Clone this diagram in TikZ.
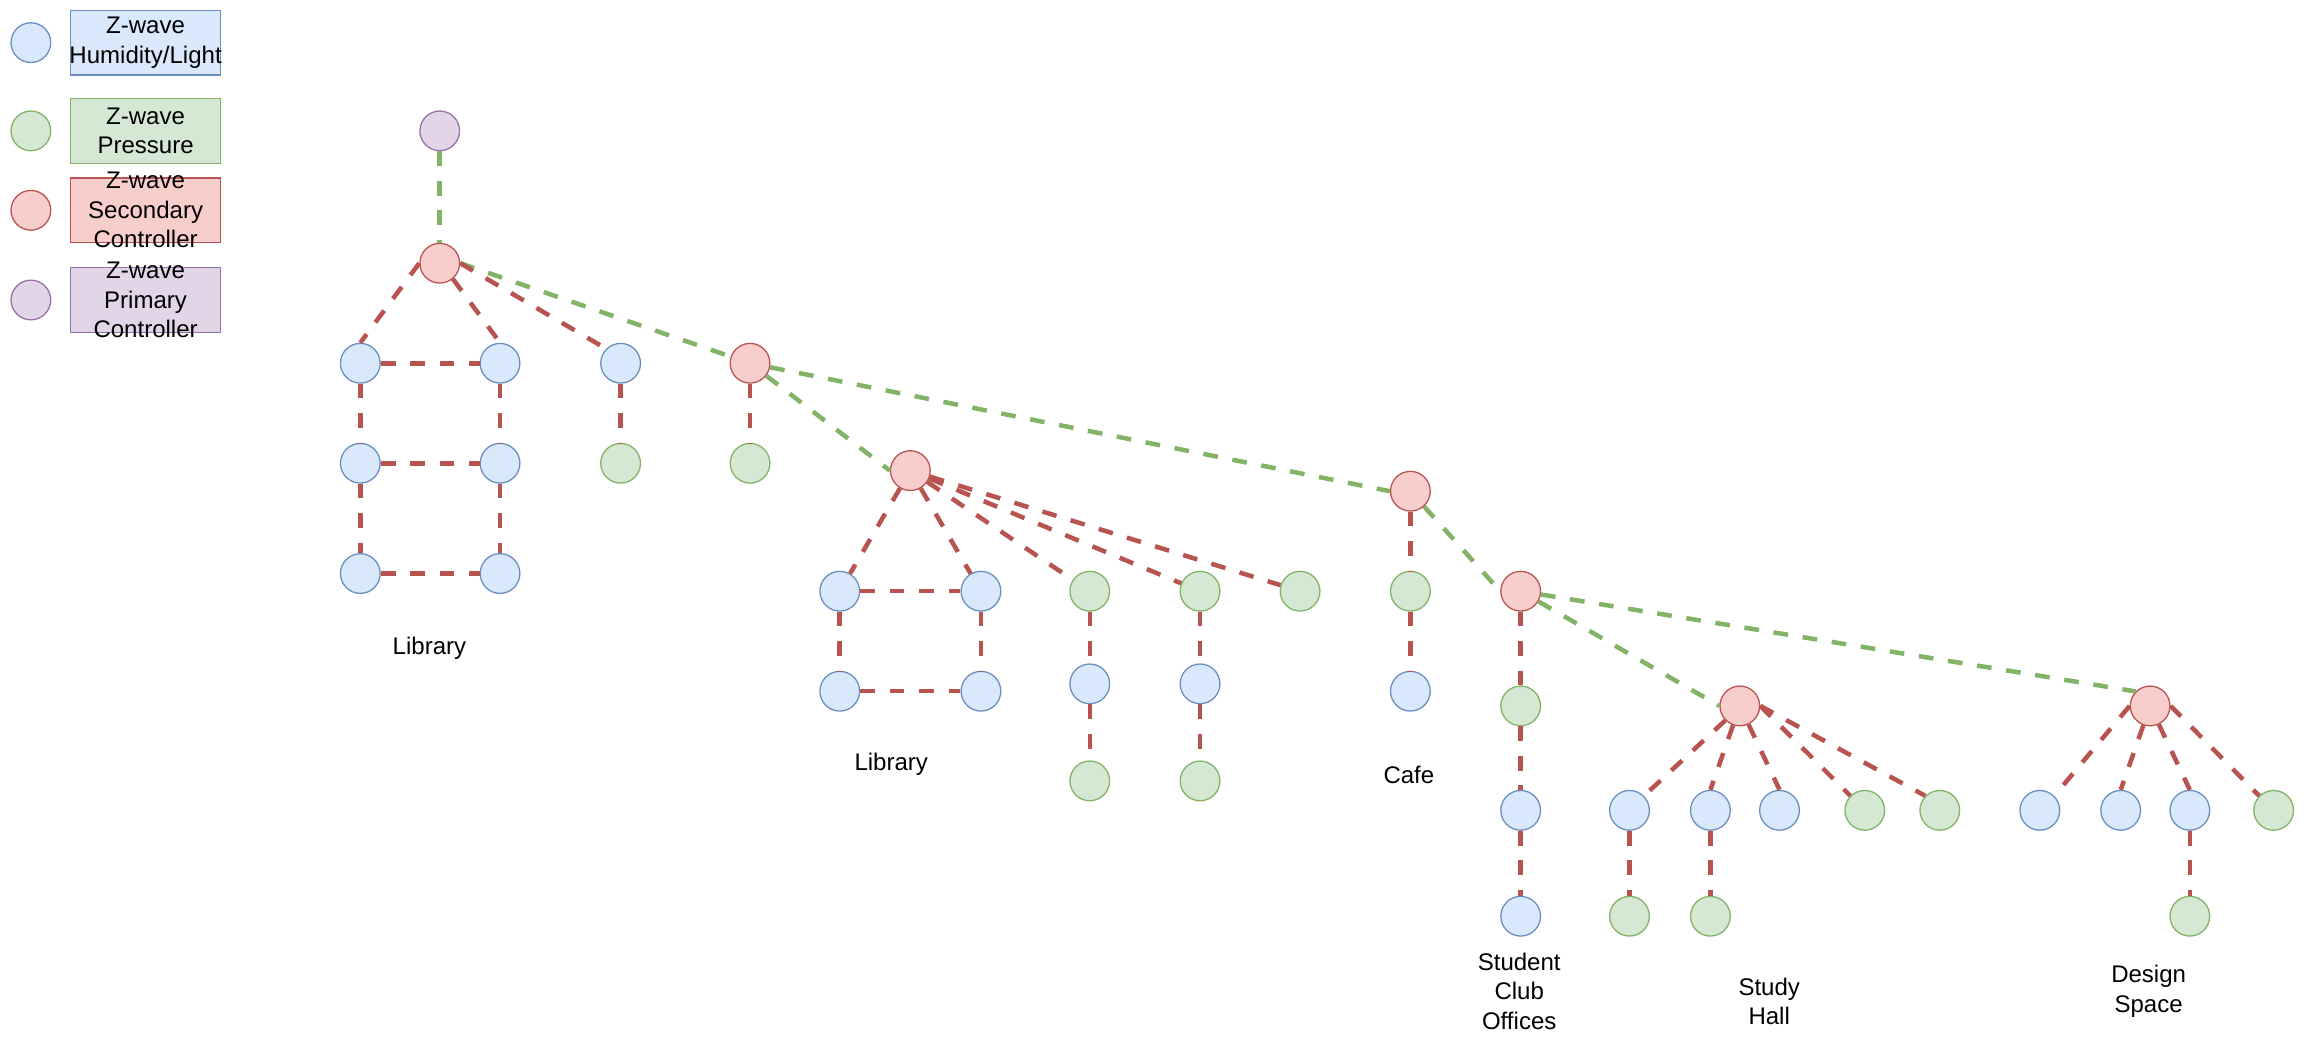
\documentclass[tikz,border=0pt]{standalone}
\usepackage{fontspec}
\setmainfont{Liberation Sans}
\usepackage{xcolor}
\definecolor{humfill}{HTML}{DAE8FC}
\definecolor{humline}{HTML}{6C8EBF}
\definecolor{prsfill}{HTML}{D5E8D4}
\definecolor{prsline}{HTML}{82B366}
\definecolor{secfill}{HTML}{F8CECC}
\definecolor{secline}{HTML}{B85450}
\definecolor{prifill}{HTML}{E1D5E7}
\definecolor{priline}{HTML}{9673A6}

\begin{document}
\begin{tikzpicture}[x=0.02cm,y=-0.02cm,
  dev/.style={circle,draw,minimum size=0.54cm,inner sep=0pt,line width=0.5pt},
  hum/.style={dev,fill=humfill,draw=humline},
  prs/.style={dev,fill=prsfill,draw=prsline},
  sec/.style={dev,fill=secfill,draw=secline},
  pri/.style={dev,fill=prifill,draw=priline},
  legbox/.style={draw,minimum width=2.04cm,minimum height=0.88cm,inner sep=0pt,line width=0.5pt},
  txt/.style={align=center,font=\fontsize{9.3}{11.4}\selectfont},
  mesh/.style={draw=prsline,line width=1.75pt,dash pattern=on 5.7pt off 5.7pt},
  wire/.style={draw=secline,line width=1.75pt,dash pattern=on 5.7pt off 5.7pt}]
\useasboundingbox (0,0) rectangle (1568,715);
%
% legend
\node[hum] (khum) at (21,29) {};
\node[prs] (kprs) at (21,89) {};
\node[sec] (ksec) at (21,143) {};
\node[pri] (kpri) at (21,204) {};
\node[legbox,fill=humfill,draw=humline] (bhum) at (99,29) {};
\node[legbox,fill=prsfill,draw=prsline] (bprs) at (99,89) {};
\node[legbox,fill=secfill,draw=secline] (bsec) at (99,143) {};
\node[legbox,fill=prifill,draw=priline] (bpri) at (99,204) {};
\node[txt] at (bhum) {Z-wave\\Humidity/Light};
\node[txt] at (bprs) {Z-wave\\Pressure};
\node[txt] at (bsec) {Z-wave\\Secondary\\Controller};
\node[txt] at (bpri) {Z-wave\\Primary\\Controller};
%
% controllers
\node[pri] (pc) at (299,89) {};
\node[sec] (s1) at (299,179) {};
\node[sec] (s2) at (510,247) {};
\node[sec] (s3) at (619,320) {};
\node[sec] (s4) at (959,334) {};
\node[sec] (s5) at (1034,402) {};
\node[sec] (s6) at (1183,480) {};
\node[sec] (s7) at (1462,480) {};
%
% first library
\node[hum] (a1) at (245,247) {};
\node[hum] (a2) at (340,247) {};
\node[hum] (a3) at (245,315) {};
\node[hum] (a4) at (340,315) {};
\node[hum] (a5) at (245,390) {};
\node[hum] (a6) at (340,390) {};
\node[hum] (a7) at (422,247) {};
\node[prs] (a8) at (422,315) {};
\node[prs] (a9) at (510,315) {};
\node[txt] (lib1) at (292,441) {Library};
%
% second library
\node[hum] (b1) at (571,402) {};
\node[hum] (b2) at (667,402) {};
\node[hum] (b3) at (571,470) {};
\node[hum] (b4) at (667,470) {};
\node[prs] (b5) at (741,402) {};
\node[hum] (b6) at (741,465) {};
\node[prs] (b7) at (741,531) {};
\node[prs] (b8) at (816,402) {};
\node[hum] (b9) at (816,465) {};
\node[prs] (b10) at (816,531) {};
\node[prs] (b11) at (884,402) {};
\node[txt] (lib2) at (606,520) {Library};
%
% cafe
\node[prs] (c1) at (959,402) {};
\node[hum] (c2) at (959,470) {};
\node[txt] (cafe) at (958,527) {Cafe};
%
% student club offices
\node[prs] (d1) at (1034,480) {};
\node[hum] (d2) at (1034,551) {};
\node[hum] (d3) at (1034,623) {};
\node[txt] (club) at (1033,674) {Student\\Club\\Offices};
%
% study hall
\node[hum] (e1) at (1108,551) {};
\node[hum] (e2) at (1163,551) {};
\node[hum] (e3) at (1210,551) {};
\node[prs] (e4) at (1268,551) {};
\node[prs] (e5) at (1319,551) {};
\node[prs] (e6) at (1108,623) {};
\node[prs] (e7) at (1163,623) {};
\node[txt] (hall) at (1203,681) {Study\\Hall};
%
% design space
\node[hum] (f1) at (1387,551) {};
\node[hum] (f2) at (1442,551) {};
\node[hum] (f3) at (1489,551) {};
\node[prs] (f4) at (1546,551) {};
\node[prs] (f5) at (1489,623) {};
\node[txt] (design) at (1461,674) {Design\\Space};
%
% controller mesh
\draw[mesh] (pc)--(s1);
\draw[mesh] (s1.east)--(s2);
\draw[mesh] (s2)--(s3.west);
\draw[mesh] (s2)--(s4.west);
\draw[mesh] (s4)--(s5.west);
\draw[mesh] (s5)--(s6.west);
\draw[mesh] (s5)--(s7.north west);
%
% sensor links
\draw[wire] (s1.west)--(a1.north);
\draw[wire] (s1.-50)--(a2.north);
\draw[wire] (s1.east)--(a7.north west);
\draw[wire] (a1)--(a2);
\draw[wire] (a3)--(a4);
\draw[wire] (a5)--(a6);
\draw[wire] (a1)--(a3)--(a5);
\draw[wire] (a2)--(a4)--(a6);
\draw[wire] (a7)--(a8);
\draw[wire] (s2)--(a9);
%
\draw[wire] (s3)--(b1);
\draw[wire] (s3)--(b2);
\draw[wire] (s3)--(b5);
\draw[wire] (s3)--(b8);
\draw[wire] (s3)--(b11);
\draw[wire] (b1)--(b2);
\draw[wire] (b3)--(b4);
\draw[wire] (b1)--(b3);
\draw[wire] (b2)--(b4);
\draw[wire] (b5)--(b6)--(b7);
\draw[wire] (b8)--(b9)--(b10);
%
\draw[wire] (s4)--(c1)--(c2);
\draw[wire] (s5)--(d1)--(d2)--(d3);
%
\draw[wire] (s6.south west)--(e1.north east);
\draw[wire] (s6)--(e2.north);
\draw[wire] (s6)--(e3.north);
\draw[wire] (s6.east)--(e4.north west);
\draw[wire] (s6.east)--(e5.north west);
\draw[wire] (e1)--(e6);
\draw[wire] (e2)--(e7);
%
\draw[wire] (s7.west)--(f1.north east);
\draw[wire] (s7)--(f2.north);
\draw[wire] (s7)--(f3.north);
\draw[wire] (s7.east)--(f4.north west);
\draw[wire] (f3)--(f5);
\end{tikzpicture}
\end{document}
